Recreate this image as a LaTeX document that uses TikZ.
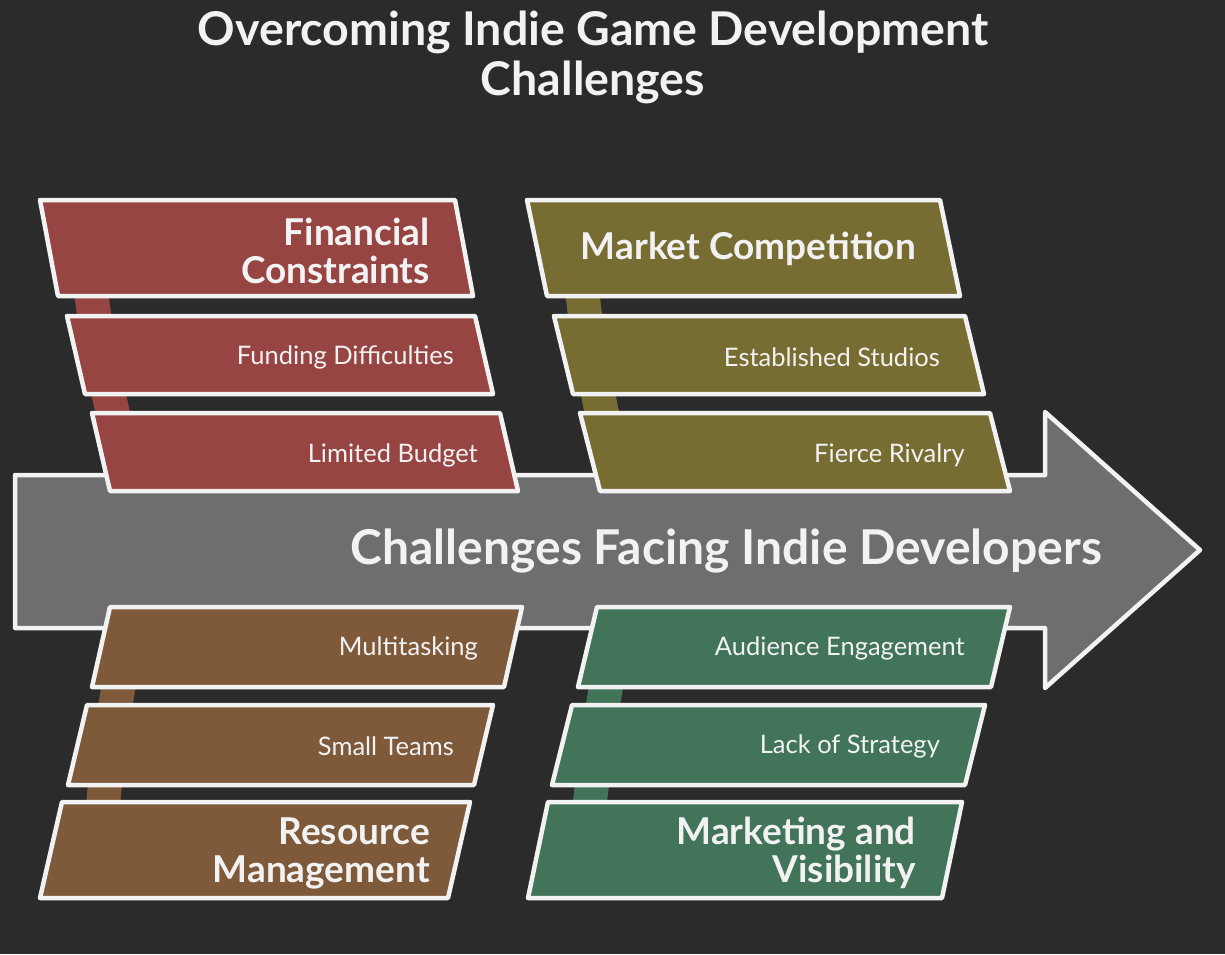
\documentclass[tikz,border=0pt]{standalone}
\usepackage{fontspec}
\setmainfont{Lato}
\usetikzlibrary{positioning}

\definecolor{bgdark}{HTML}{2B2B2B}
\definecolor{inkwhite}{HTML}{F2F2F2}
\definecolor{spinegray}{HTML}{6E6E6E}
\definecolor{finred}{HTML}{974543}
\definecolor{mktolive}{HTML}{776D33}
\definecolor{resbrown}{HTML}{7E5A3B}
\definecolor{visgreen}{HTML}{417459}

\tikzset{
  outline/.style={draw=inkwhite, line width=4.5pt, line join=round},
  band/.style={line width=34pt, line cap=round},
  head/.style={text=inkwhite, font=\fontsize{37}{38}\selectfont\bfseries, align=right, inner sep=0pt},
  sub/.style={text=inkwhite, font=\fontsize{25.5}{28}\selectfont, inner sep=0pt},
  titletext/.style={text=inkwhite, font=\fontsize{46.5}{50}\selectfont\bfseries, align=center, inner sep=0pt},
}

% parallelogram: colour, top-left x, y, width, height, slant
\newcommand{\plgram}[6]{\filldraw[outline, fill=#1] (#2,#3) -- ++(#4,0) -- ++(#6,#5) -- ++(-#4,0) -- cycle;}

\begin{document}
\begin{tikzpicture}[x=1pt, y=-1pt]
  \fill[bgdark] (0,0) rectangle (1225,954);
  \useasboundingbox (0,0) rectangle (1225,954);

  \node[titletext] (title) at (593,57) {Overcoming Indie Game Development\\Challenges};

  % the spine
  \filldraw[outline, fill=spinegray] (15,475) -- (1045,475) -- (1045,412) -- (1200,550)
    -- (1045,688) -- (1045,628) -- (15,628) -- cycle;
  \node[head, font=\fontsize{48}{50}\selectfont\bfseries, anchor=east] (spine) at (1102,551)
    {Challenges Facing Indie Developers};

  % bands behind each group
  \draw[band, finred] (88,262) .. controls (95,340) and (108,390) .. (122,455);
  \draw[band, mktolive] (580,262) .. controls (585,340) and (598,390) .. (610,455);
  \draw[band, resbrown] (125,650) .. controls (112,720) and (104,780) .. (100,845);
  \draw[band, visgreen] (612,650) .. controls (600,720) and (592,780) .. (585,845);

  % top left: financial constraints
  \plgram{finred}{40}{200}{415}{96}{18}
  \plgram{finred}{67}{316}{408}{78}{18}
  \plgram{finred}{92}{413}{408}{78}{18}
  \node[head, anchor=east] (financial) at (430,251) {Financial\\Constraints};
  \node[sub, anchor=east] (funding) at (454,357) {Funding Difficulties};
  \node[sub, anchor=east] (budget) at (478,455) {Limited Budget};

  % top right: market competition
  \plgram{mktolive}{527}{200}{413}{96}{20}
  \plgram{mktolive}{554}{316}{411}{78}{19}
  \plgram{mktolive}{580}{413}{410}{78}{20}
  \node[head, anchor=east] (market) at (916,249) {Market Competition};
  \node[sub, anchor=east] (studios) at (940,357) {Established Studios};
  \node[sub, anchor=east] (rivalry) at (965,455) {Fierce Rivalry};

  % bottom left: resource management
  \plgram{resbrown}{110}{607}{412}{80}{-18}
  \plgram{resbrown}{87}{705}{406}{80}{-19}
  \plgram{resbrown}{62}{802}{408}{96}{-22}
  \node[sub, anchor=east] (multitask) at (478,648) {Multitasking};
  \node[sub, anchor=east] (teams) at (454,746) {Small Teams};
  \node[head, anchor=east] (resource) at (430,853) {Resource\\Management};

  % bottom right: marketing and visibility
  \plgram{visgreen}{597}{607}{413}{80}{-19}
  \plgram{visgreen}{572}{705}{413}{80}{-20}
  \plgram{visgreen}{548}{802}{414}{96}{-20}
  \node[sub, anchor=east] (audience) at (965,648) {Audience Engagement};
  \node[sub, anchor=east] (strategy) at (940,746) {Lack of Strategy};
  \node[head, anchor=east] (marketing) at (916,853) {Marketing and\\Visibility};
\end{tikzpicture}
\end{document}
